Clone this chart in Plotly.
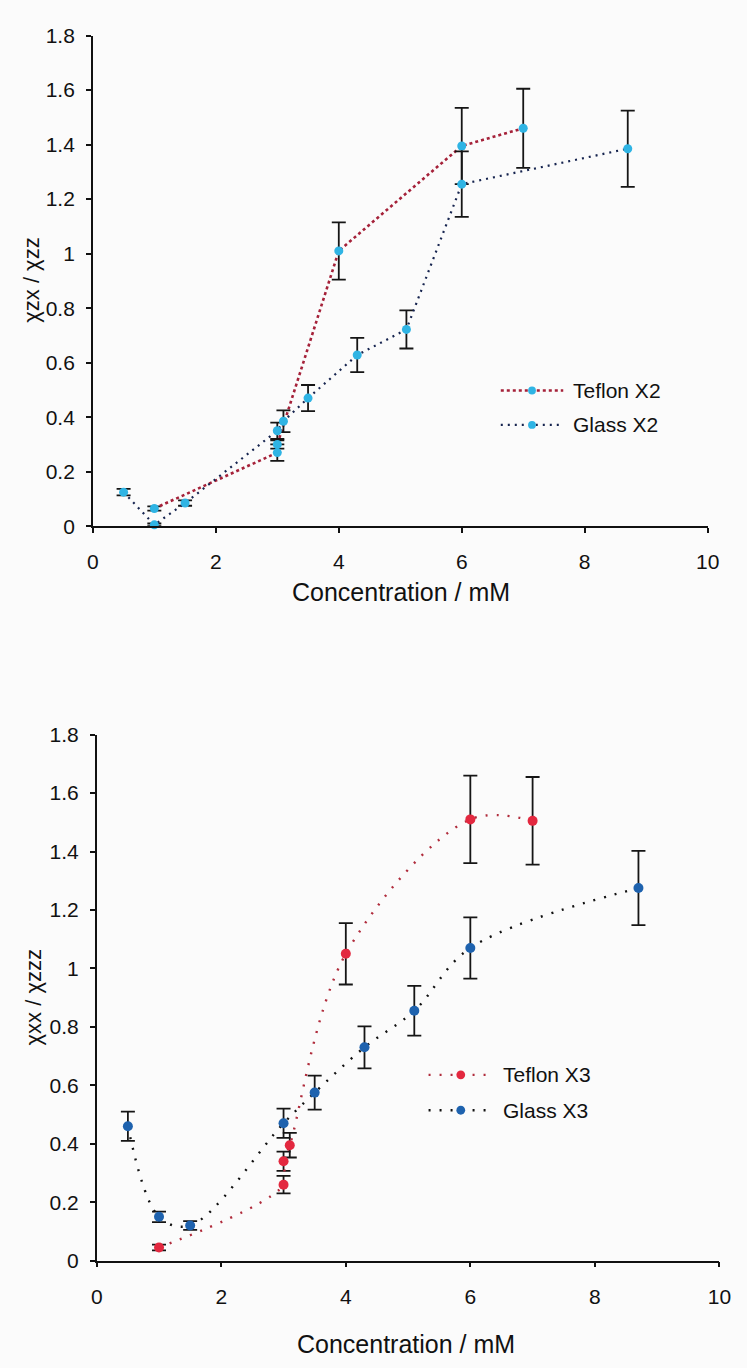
import plotly.graph_objects as go

# ---- X2 data (upper panel) ----
teflon_x2_conc = [1.0, 3.0, 3.0, 4.0, 6.0, 7.0]
teflon_x2_ratio = [0.065, 0.27, 0.30, 1.01, 1.395, 1.46]
teflon_x2_err = [0.008, 0.03, 0.015, 0.105, 0.14, 0.145]

glass_x2_conc = [0.5, 1.0, 1.5, 3.0, 3.1, 3.5, 4.3, 5.1, 6.0, 8.7]
glass_x2_ratio = [0.125, 0.005, 0.085, 0.35, 0.385, 0.47, 0.628, 0.722, 1.255, 1.385]
glass_x2_err = [0.012, 0.005, 0.01, 0.03, 0.04, 0.048, 0.063, 0.07, 0.12, 0.14]

# ---- X3 data (lower panel) ----
teflon_x3_conc = [1.0, 3.0, 3.0, 3.1, 4.0, 6.0, 7.0]
teflon_x3_ratio = [0.045, 0.26, 0.34, 0.395, 1.05, 1.51, 1.505]
teflon_x3_err = [0.01, 0.03, 0.033, 0.042, 0.105, 0.15, 0.15]

glass_x3_conc = [0.5, 1.0, 1.5, 3.0, 3.5, 4.3, 5.1, 6.0, 8.7]
glass_x3_ratio = [0.46, 0.15, 0.12, 0.47, 0.575, 0.73, 0.855, 1.07, 1.275]
glass_x3_err = [0.05, 0.018, 0.015, 0.05, 0.058, 0.072, 0.085, 0.105, 0.127]

x_ticks = [0, 2, 4, 6, 8, 10]
y_ticks = [0, 0.2, 0.4, 0.6, 0.8, 1, 1.2, 1.4, 1.6, 1.8]
y_tick_text = ["0", "0.2", "0.4", "0.6", "0.8", "1", "1.2", "1.4", "1.6", "1.8"]

W, H = 747, 1368
FONT = "Liberation Sans, Arial, sans-serif"
BG = "#fbfbfb"
CYAN = "#2fb4e4"
RED_MK = "#e3283f"
BLUE_MK = "#1e62ae"


def err(vals):
    return dict(type="data", array=vals, visible=True, color="#151515",
                thickness=1.8, width=7)


fig = go.Figure()

fig.add_trace(go.Scatter(
    x=teflon_x2_conc, y=teflon_x2_ratio, error_y=err(teflon_x2_err),
    mode="lines+markers", name="Teflon X2", xaxis="x", yaxis="y",
    line=dict(color="#a52139", width=2.6, dash="3px,3px"),
    marker=dict(color=CYAN, size=9), cliponaxis=False))
fig.add_trace(go.Scatter(
    x=glass_x2_conc, y=glass_x2_ratio, error_y=err(glass_x2_err),
    mode="lines+markers", name="Glass X2", xaxis="x", yaxis="y",
    line=dict(color="#16244f", width=2.2, dash="2px,5px"),
    marker=dict(color=CYAN, size=9), cliponaxis=False))

fig.add_trace(go.Scatter(
    x=teflon_x3_conc, y=teflon_x3_ratio, error_y=err(teflon_x3_err),
    mode="lines+markers", name="Teflon X3", xaxis="x2", yaxis="y2",
    line=dict(color="#b02c3c", width=2.4, dash="2px,9px", shape="spline", smoothing=1.0),
    marker=dict(color=RED_MK, size=10), cliponaxis=False))
fig.add_trace(go.Scatter(
    x=glass_x3_conc, y=glass_x3_ratio, error_y=err(glass_x3_err),
    mode="lines+markers", name="Glass X3", xaxis="x2", yaxis="y2",
    line=dict(color="#111111", width=2.4, dash="2px,9px", shape="spline", smoothing=1.0),
    marker=dict(color=BLUE_MK, size=10), cliponaxis=False))


def xaxis(domain, anchor):
    return dict(domain=domain, anchor=anchor, range=[0, 10], tickvals=x_ticks,
                showgrid=False, zeroline=False, showline=True, linecolor="#111",
                linewidth=1.6, ticks="outside", ticklen=5, tickcolor="#111",
                tickwidth=1.5, ticklabelstandoff=11,
                tickfont=dict(family=FONT, size=21, color="#111"))


def yaxis(domain, anchor):
    return dict(domain=domain, anchor=anchor, range=[0, 1.8], tickvals=y_ticks,
                ticktext=y_tick_text, showgrid=False, zeroline=False, showline=True,
                linecolor="#111", linewidth=1.6, ticks="outside", ticklen=5,
                tickcolor="#111", tickwidth=1.5, ticklabelstandoff=7,
                tickfont=dict(family=FONT, size=21, color="#111"))


def px_x(p):
    return p / W


def px_y(p):
    return 1 - p / H


def label(text, x, y, size, angle=0, xanchor="center"):
    return dict(text=text, x=px_x(x), y=px_y(y), xref="paper", yref="paper",
                xanchor=xanchor, yanchor="middle", showarrow=False, textangle=angle,
                font=dict(family=FONT, size=size, color="#111"))


annotations = [
    label("Concentration / mM", 405, 590, 25),
    label("Concentration / mM", 410, 1355, 25),
    label("χzx / χzz", 26, 273, 22, angle=-90),
    label("χxx / χzzz", 28, 1002, 22, angle=-90),
]

shapes = []

# hand-placed legend entries: dotted sample line, marker dot, label
legend_rows = [
    ("Teflon X2", 507, 571, 539, 385, "#a52139", "3px,3px", 2.6, CYAN, 8),
    ("Glass X2", 507, 571, 539, 420, "#16244f", "2px,5px", 2.2, CYAN, 8),
    ("Teflon X3", 433, 499, 466, 1081, "#b02c3c", "2px,9px", 2.4, RED_MK, 9),
    ("Glass X3", 433, 499, 466, 1117, "#111111", "2px,9px", 2.4, BLUE_MK, 9),
]
for text, x0, x1, xm, yy, lc, dash, lw, mc, ms in legend_rows:
    shapes.append(dict(type="line", xref="paper", yref="paper",
                       x0=px_x(x0), x1=px_x(x1), y0=px_y(yy), y1=px_y(yy),
                       line=dict(color=lc, width=lw, dash=dash)))
    shapes.append(dict(type="circle", xref="paper", yref="paper",
                       x0=px_x(xm - ms / 2), x1=px_x(xm + ms / 2),
                       y0=px_y(yy + ms / 2), y1=px_y(yy - ms / 2),
                       fillcolor=mc, line=dict(width=0)))
    annotations.append(label(text, x1 + 8, yy, 21, xanchor="left"))

fig.update_layout(
    width=W, height=H, margin=dict(l=0, r=0, t=0, b=0),
    paper_bgcolor=BG, plot_bgcolor=BG, showlegend=False,
    xaxis=xaxis([89 / W, 719 / W], "y"),
    yaxis=yaxis([1 - 523 / H, 1 - 24 / H], "x"),
    xaxis2=xaxis([93 / W, 731 / W], "y2"),
    yaxis2=yaxis([1 - 1270 / H, 1 - 735 / H], "x2"),
    annotations=annotations, shapes=shapes,
)

fig.write_html("out.html")
